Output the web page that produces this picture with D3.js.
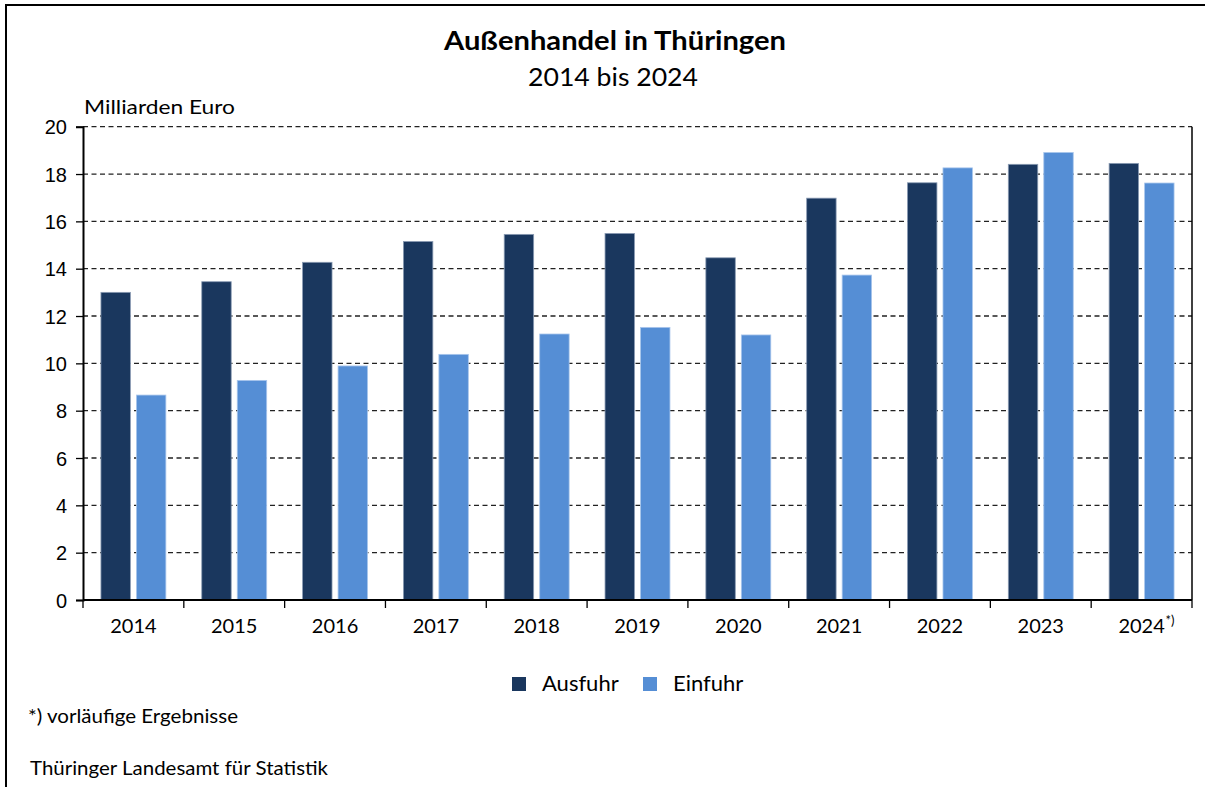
<!DOCTYPE html>
<html><head><meta charset="utf-8">
<script src="https://cdn.jsdelivr.net/npm/d3@7"></script>
<style>
html,body{margin:0;padding:0;background:#fff;}
svg{display:block;font-family:"Source Sans Pro","Lato","Noto Sans",sans-serif;}
</style></head>
<body>
<svg id="c" width="1208" height="787"></svg>
<script>
const years = ["2014","2015","2016","2017","2018","2019","2020","2021","2022","2023","2024"];
const yearLabels = ["2014","2015","2016","2017","2018","2019","2020","2021","2022","2023","2024"];
const ausfuhr = [13.0, 13.45, 14.27, 15.15, 15.45, 15.49, 14.46, 16.98, 17.63, 18.41, 18.45];
const einfuhr = [8.66, 9.28, 9.89, 10.38, 11.24, 11.52, 11.2, 13.73, 18.26, 18.91, 17.62];
const yTicks = [0,2,4,6,8,10,12,14,16,18,20];
const seriesNames = ["Ausfuhr","Einfuhr"];
const colors = ["#1a375e","#558ed5"];

const svg = d3.select("#c");
const L = 83, R = 1192, T = 126.7, B = 600;

// outer frame
svg.append("line").attr("x1",6).attr("x2",1205).attr("y1",5).attr("y2",5).attr("stroke","#000").attr("stroke-width",2);
svg.append("line").attr("x1",6).attr("x2",6).attr("y1",4).attr("y2",787).attr("stroke","#000").attr("stroke-width",2);

// titles
svg.append("text").attr("x",615).attr("y",50).attr("text-anchor","middle")
  .attr("font-size",26).attr("font-weight","bold").attr("fill","#000")
  .attr("textLength",342).attr("lengthAdjust","spacingAndGlyphs").text("Außenhandel in Thüringen");
svg.append("text").attr("x",613).attr("y",86).attr("text-anchor","middle")
  .attr("font-size",25).attr("fill","#000")
  .attr("textLength",170).attr("lengthAdjust","spacingAndGlyphs").text("2014 bis 2024");
svg.append("text").attr("x",84).attr("y",114).attr("font-size",20).attr("fill","#000")
  .attr("textLength",151).attr("lengthAdjust","spacingAndGlyphs").text("Milliarden Euro");

const x = d3.scaleBand().domain(years).range([L,R]).paddingInner(0).paddingOuter(0);
const y = d3.scaleLinear().domain([0,20]).range([B,T]);

// gridlines
svg.append("g").selectAll("line").data(yTicks.filter(d=>d>0)).join("line")
  .attr("x1",L).attr("x2",R).attr("y1",d=>y(d)).attr("y2",d=>y(d))
  .attr("stroke","#222").attr("stroke-width",1.3).attr("stroke-dasharray","5,3.5");

// bars
const bw = x.bandwidth();
const barW = bw*0.292;
const offs = [bw*0.178, bw*0.53];
[ausfuhr, einfuhr].forEach((vals, si) => {
  svg.append("g").selectAll("rect").data(vals).join("rect")
    .attr("x",(d,i)=>x(years[i])+offs[si])
    .attr("y",d=>y(d))
    .attr("width",barW)
    .attr("height",d=>B-y(d))
    .attr("fill",colors[si])
    .attr("stroke", si===0 ? "#8a9bb3" : "#a9c6ec").attr("stroke-width",0.8);
});

// y axis
const yAxis = d3.axisLeft(y).tickValues(yTicks).tickSize(7).tickPadding(9).tickFormat(d3.format("d"));
const gy = svg.append("g").attr("transform",`translate(${L},0)`).call(yAxis);
gy.select(".domain").attr("stroke","#000").attr("stroke-width",2);
gy.selectAll(".tick line").attr("stroke","#000").attr("stroke-width",1.3);
gy.selectAll(".tick text").attr("font-size",20).attr("fill","#000").attr("font-family","inherit").attr("dy","0.35em");

// right axis line
svg.append("line").attr("x1",R).attr("x2",R).attr("y1",T).attr("y2",B).attr("stroke","#000").attr("stroke-width",1.5);

// x axis
const xAxisLine = svg.append("g");
xAxisLine.append("line").attr("x1",L).attr("x2",R).attr("y1",B).attr("y2",B).attr("stroke","#000").attr("stroke-width",1.8);
const bounds = years.map(yy=>x(yy)).concat([R]);
xAxisLine.selectAll("line.tk").data(bounds).join("line").attr("class","tk")
  .attr("x1",d=>d).attr("x2",d=>d).attr("y1",B).attr("y2",B+8).attr("stroke","#000").attr("stroke-width",1.3);
svg.append("g").selectAll("text").data(yearLabels).join("text")
  .attr("x",d=>x(d)+bw/2).attr("y",633).attr("text-anchor","middle")
  .attr("font-size",20).attr("fill","#000").text(d=>d);
// footnote marker on 2024
svg.append("text").attr("x",x("2024")+bw/2+24).attr("y",625).attr("font-size",13).attr("fill","#000").text("*)");

// legend
const legX = [512, 643];
const legTX = [542, 673];
seriesNames.forEach((n,i)=>{
  svg.append("rect").attr("x",legX[i]).attr("y",677).attr("width",14).attr("height",14).attr("fill",colors[i]);
  svg.append("text").attr("x",legTX[i]).attr("y",691).attr("font-size",22).attr("fill","#000").text(n);
});

// footnotes
svg.append("text").attr("x",28).attr("y",723).attr("font-size",19).attr("fill","#000")
  .attr("textLength",210).attr("lengthAdjust","spacingAndGlyphs").text("*) vorläufige Ergebnisse");
svg.append("text").attr("x",30).attr("y",775).attr("font-size",19).attr("fill","#000")
  .attr("textLength",298).attr("lengthAdjust","spacingAndGlyphs").text("Thüringer Landesamt für Statistik");
</script>
</body></html>
